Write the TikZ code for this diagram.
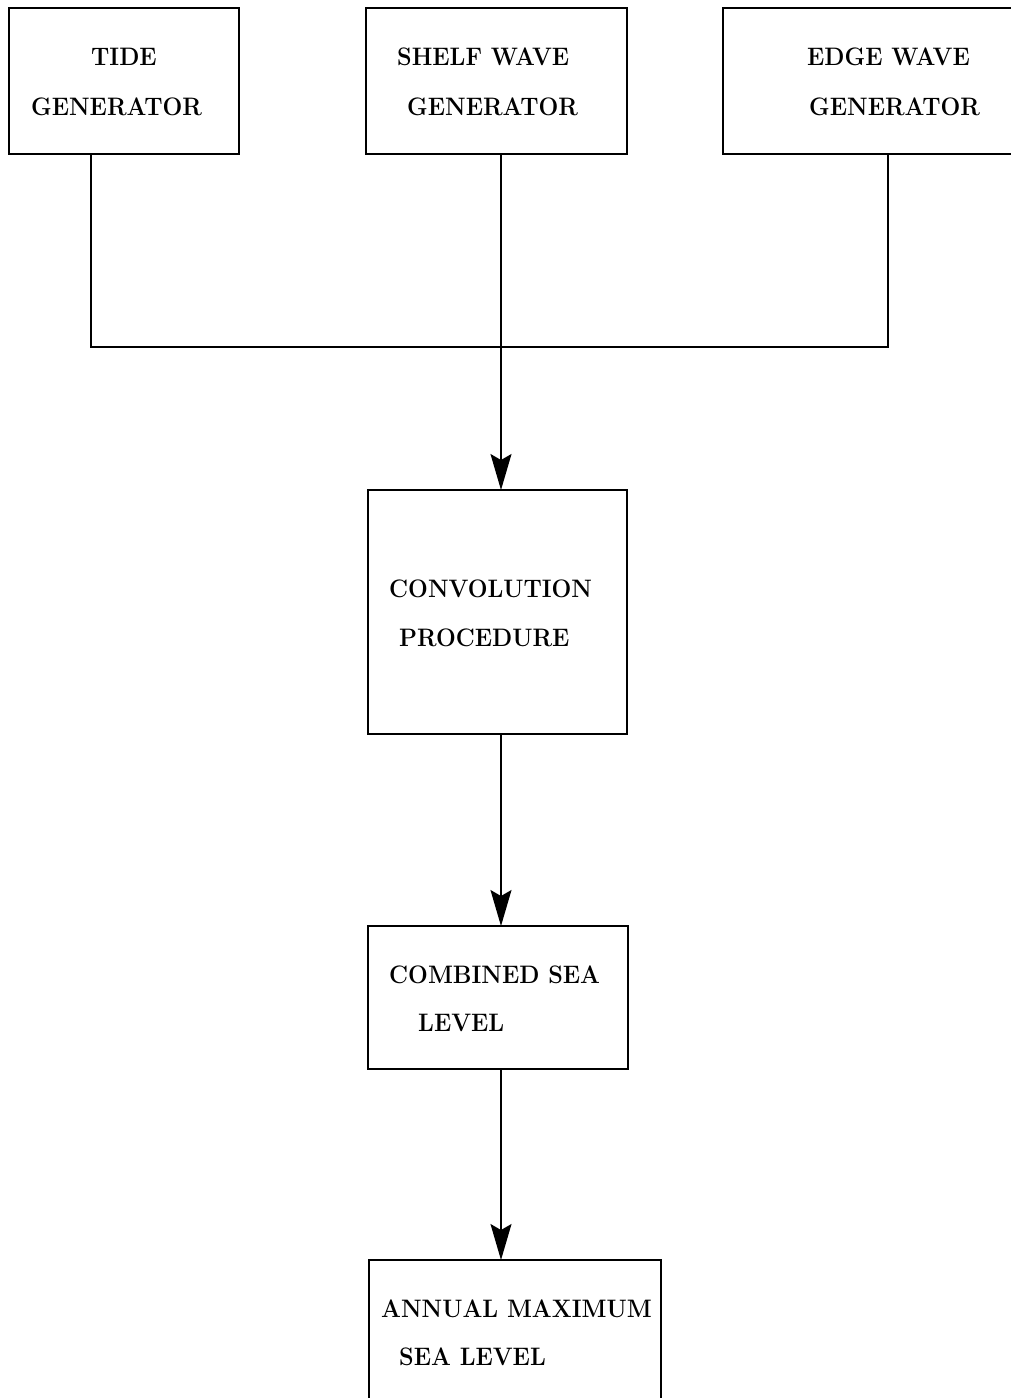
\documentclass[tikz,border=0pt]{standalone}
\usepackage{graphicx}
\usetikzlibrary{arrows.meta}
\newcommand{\tallcaps}[1]{\scalebox{1}[1.08]{#1}}
\begin{document}
\begin{tikzpicture}[x=1pt,y=-1pt,
  box/.style={draw,line width=1.3pt,inner sep=0pt,outer sep=0pt,rectangle},
  lbl/.style={anchor=base west,inner sep=0pt,font=\fontsize{23.4}{28}\selectfont\bfseries},
  link/.style={line width=1.3pt},
  flow/.style={line width=1.3pt,-{Stealth[length=36pt,width=21pt,inset=6pt]}}]
\useasboundingbox (0,0) rectangle (1011,1398);
\clip (0,0) rectangle (1011,1398);
% boxes
\node[box,minimum width=230pt,minimum height=146pt] (tide) at (124,81) {};
\node[box,minimum width=261pt,minimum height=146pt] (shelf) at (496.5,81) {};
\node[box,minimum width=297pt,minimum height=146pt] (edge) at (871.5,81) {};
\node[box,minimum width=259pt,minimum height=244pt] (conv) at (497.5,612) {};
\node[box,minimum width=260pt,minimum height=143pt] (comb) at (498,997.5) {};
\node[box,minimum width=292pt,minimum height=170pt] (annual) at (515,1345) {};
% labels
\node[lbl] (t1) at (91,65) {\tallcaps{TIDE}};
\node[lbl] (t2) at (31,115) {\tallcaps{GENERATOR}};
\node[lbl] (s1) at (397,65) {\tallcaps{SHELF WAVE}};
\node[lbl] (s2) at (407,115) {\tallcaps{GENERATOR}};
\node[lbl] (e1) at (807,65) {\tallcaps{EDGE WAVE}};
\node[lbl] (e2) at (809,115) {\tallcaps{GENERATOR}};
\node[lbl] (c1) at (389,597) {\tallcaps{CONVOLUTION}};
\node[lbl] (c2) at (399,646) {\tallcaps{PROCEDURE}};
\node[lbl] (m1) at (389,983) {\tallcaps{COMBINED SEA}};
\node[lbl] (m2) at (418,1031) {\tallcaps{LEVEL}};
\node[lbl] (a1) at (381,1317) {\tallcaps{ANNUAL MAXIMUM}};
\node[lbl] (a2) at (399,1365) {\tallcaps{SEA LEVEL}};
% junction coordinates
\coordinate (jl) at (91,347);
\coordinate (jr) at (888,347);
\coordinate (spine) at (501,347);
% connectors
\draw[link] (tide.south -| jl) -- (jl) -- (jr) -- (edge.south -| jr);
\draw[flow] (shelf.south -| spine) -- (conv.north -| spine);
\draw[flow] (conv.south -| spine) -- (comb.north -| spine);
\draw[flow] (comb.south -| spine) -- (annual.north -| spine);
\end{tikzpicture}
\end{document}
